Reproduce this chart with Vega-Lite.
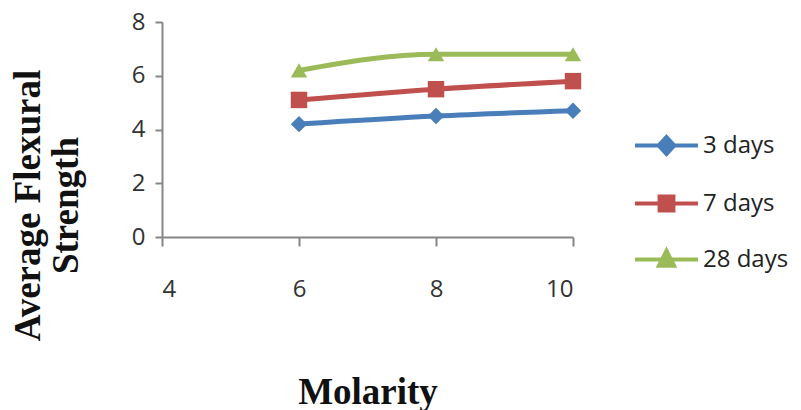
{
  "$schema": "https://vega.github.io/schema/vega-lite/v6.json",
  "autosize": "none",
  "width": 411,
  "height": 215,
  "padding": {"left": 162, "top": 22, "right": 228, "bottom": 173},
  "background": "white",
  "config": {"view": {"stroke": null}},
  "data": {
    "values": [
      {"molarity": 6, "strength": 4.2, "series": "3 days"},
      {"molarity": 8, "strength": 4.5, "series": "3 days"},
      {"molarity": 10, "strength": 4.7, "series": "3 days"},
      {"molarity": 6, "strength": 5.1, "series": "7 days"},
      {"molarity": 8, "strength": 5.5, "series": "7 days"},
      {"molarity": 10, "strength": 5.8, "series": "7 days"},
      {"molarity": 6, "strength": 6.2, "series": "28 days"},
      {"molarity": 8, "strength": 6.8, "series": "28 days"},
      {"molarity": 10, "strength": 6.8, "series": "28 days"}
    ]
  },
  "encoding": {
    "x": {
      "field": "molarity", "type": "quantitative",
      "scale": {"domain": [4, 10], "nice": false, "zero": false},
      "axis": {
        "values": [4, 6, 8, 10], "grid": false,
        "domainColor": "#868686", "domainWidth": 2,
        "tickColor": "#868686", "tickWidth": 2, "tickSize": 9,
        "labelFont": "Open Sans", "labelFontSize": 24, "labelColor": "#333333",
        "labelPadding": 31,
        "title": "Molarity", "titleFont": "Liberation Serif", "titleFontSize": 37,
        "titleFontWeight": "bold", "titleColor": "#111111",
        "titleAnchor": "middle", "titleY": 166, "titleBaseline": "alphabetic"
      }
    },
    "y": {
      "field": "strength", "type": "quantitative",
      "scale": {"domain": [0, 8], "nice": false},
      "axis": {
        "values": [0, 2, 4, 6, 8], "grid": false,
        "domainColor": "#868686", "domainWidth": 2,
        "tickColor": "#868686", "tickWidth": 2, "tickSize": 7,
        "labelFont": "Open Sans", "labelFontSize": 24, "labelColor": "#333333",
        "labelPadding": 10,
        "title": ["Average Flexural", "Strength"],
        "titleFont": "Liberation Serif", "titleFontSize": 37, "titleFontWeight": "bold",
        "titleColor": "#111111", "titleLineHeight": 38,
        "titleAngle": -90, "titleAlign": "center", "titleBaseline": "middle",
        "titleX": -134, "titleY": 183
      }
    },
    "color": {
      "field": "series", "type": "nominal",
      "scale": {"domain": ["3 days", "7 days", "28 days"], "range": ["#4A7EBB", "#C0504D", "#9BBB59"]},
      "legend": {
        "title": null, "orient": "none", "legendX": 471, "legendY": 90,
        "labelFont": "Open Sans", "labelFontSize": 24, "labelColor": "#222222",
        "labelOffset": 3, "symbolSize": 3969, "rowPadding": 7,
        "symbolStrokeWidth": 4,
        "encode": {
          "symbols": {
            "update": {
              "shape": {"signal": "datum.value === '3 days' ? 'M-1,0H1M0,-0.27L0.25,0L0,0.27L-0.25,0Z' : datum.value === '7 days' ? 'M-1,0H1M-0.22,-0.22H0.22V0.22H-0.22Z' : 'M-1,0H1M0,-0.28L0.24,0.2L-0.24,0.2Z'"},
              "fill": {"scale": "color", "field": "value"},
              "stroke": {"scale": "color", "field": "value"},
              "strokeWidth": {"value": 4},
              "opacity": {"value": 1}
            }
          }
        }
      }
    }
  },
  "layer": [
    {
      "mark": {"type": "line", "interpolate": "monotone", "strokeWidth": 5}
    },
    {
      "transform": [{"filter": "datum.series === '3 days'"}],
      "mark": {"type": "point", "shape": "diamond", "filled": true, "size": 270, "opacity": 1}
    },
    {
      "transform": [{"filter": "datum.series === '7 days'"}],
      "mark": {"type": "point", "shape": "square", "filled": true, "size": 270, "opacity": 1}
    },
    {
      "transform": [{"filter": "datum.series === '28 days'"}],
      "mark": {"type": "point", "shape": "triangle-up", "filled": true, "size": 270, "opacity": 1}
    }
  ]
}
